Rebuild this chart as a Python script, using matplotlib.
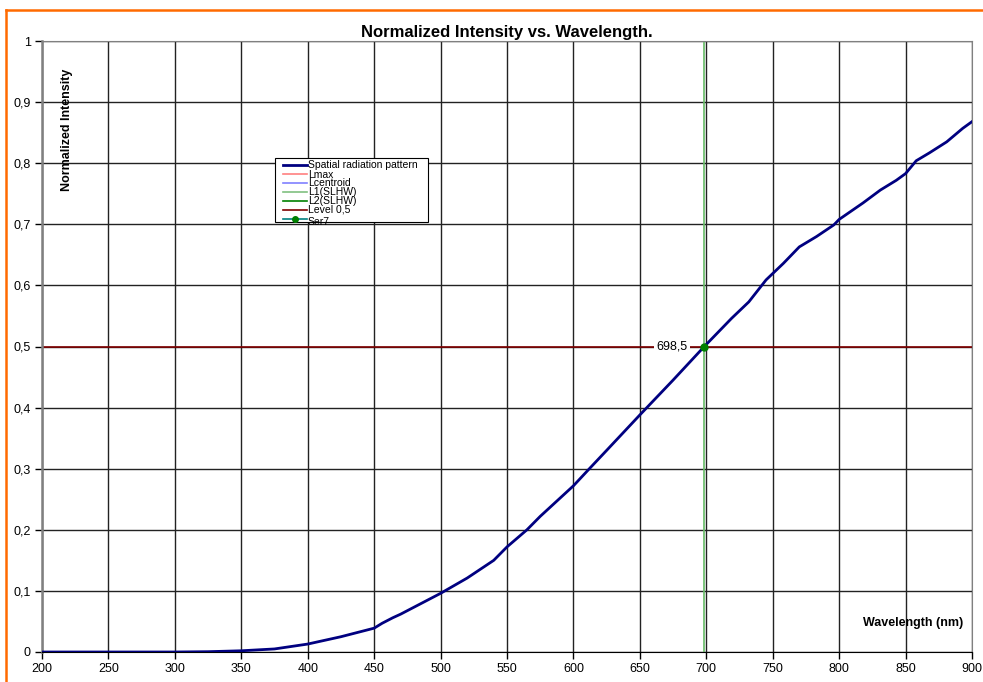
import numpy as np
import matplotlib.pyplot as plt
from matplotlib.lines import Line2D
from matplotlib.patches import Rectangle
from matplotlib.ticker import FuncFormatter

plt.rcParams['font.family'] = ['Liberation Sans', 'DejaVu Sans']

# spectrum read as (wavelength, normalized intensity)
wavelength = [200, 250, 300, 325, 350, 375, 400, 425, 450, 456, 464, 470, 500, 520, 540,
              550, 565, 575, 600, 612, 625, 650, 675, 698.5, 719, 732, 745, 758, 770,
              783, 796, 800, 818, 831, 843, 850, 858, 868, 881, 893, 900]
intensity = [0, 0, 0, 0.0005, 0.002, 0.005, 0.013, 0.025, 0.039, 0.047, 0.056, 0.062, 0.096,
             0.121, 0.15, 0.172, 0.2, 0.222, 0.272, 0.3, 0.33, 0.388, 0.445, 0.5, 0.546,
             0.573, 0.609, 0.636, 0.663, 0.68, 0.699, 0.708, 0.735, 0.756, 0.772, 0.783,
             0.804, 0.817, 0.835, 0.857, 0.868]

level = 0.5
l1_slhw = 698.5
x_ticks = list(range(200, 901, 50))
y_ticks = [0, 0.1, 0.2, 0.3, 0.4, 0.5, 0.6, 0.7, 0.8, 0.9, 1]

series_names = ['Spatial radiation pattern', 'Lmax', 'Lcentroid', 'L1(SLHW)', 'L2(SLHW)',
                'Level 0,5', 'Ser7']
series_colors = ['#000080', '#ff8080', '#8080ff', '#80c080', '#008000', '#800000', '#008080']


def comma(v):
    return ('%g' % v).replace('.', ',')


fig = plt.figure(figsize=(9.83, 6.82), dpi=100)
ax = fig.add_axes([42 / 983, 30 / 682, 930 / 983, 611 / 682])


def px(x, y):
    # pixel position of the figure -> axes fraction
    return (x - 42) / 930, (652 - y) / 611


ax.set_xlim(200, 900)
ax.set_ylim(0, 1)
ax.set_xticks(x_ticks)
ax.set_yticks(y_ticks)
ax.yaxis.set_major_formatter(FuncFormatter(lambda v, p: comma(v)))
ax.tick_params(direction='out', length=5, width=1, labelsize=9, colors='black', pad=3)
ax.grid(True, color='#222222', linewidth=1)
ax.set_axisbelow(True)

for side in ['top', 'right']:
    ax.spines[side].set_color('#808080')
ax.spines['left'].set_color('#808080')
ax.spines['left'].set_linewidth(1.8)
ax.spines['bottom'].set_color('black')

ax.axhline(level, color='#800000', linewidth=1.2, zorder=2)
ax.axvline(l1_slhw, color='#66bb66', linewidth=1.2, zorder=2)
ax.plot(wavelength, intensity, color='#000080', linewidth=2, zorder=3)
ax.plot([l1_slhw], [level], 'o', color='#008000', markersize=5, zorder=4)
ax.text(l1_slhw - 12.5, level, comma(l1_slhw), ha='right', va='center', fontsize=9,
        bbox=dict(facecolor='white', edgecolor='none', pad=1.5), zorder=4)

ax.set_title('Normalized Intensity vs. Wavelength.', fontsize=12, fontweight='bold', pad=3)
ax.text(219, 0.854, 'Normalized Intensity', rotation=90, ha='center', va='center',
        fontsize=9, fontweight='bold')
ax.text(856, 0.0475, 'Wavelength (nm)', ha='center', va='center', fontsize=9,
        fontweight='bold')

# legend box, the last entry is cut by the frame
x0, y0 = px(275, 222)
x1, y1 = px(428, 158)
frame = Rectangle((x0, y0), x1 - x0, y1 - y0, transform=ax.transAxes, facecolor='white',
                  edgecolor='black', linewidth=0.8, zorder=5)
ax.add_patch(frame)
clip = Rectangle((x0, y0), x1 - x0, y1 - y0, transform=ax.transAxes, facecolor='none',
                 edgecolor='none')
ax.add_patch(clip)
row_y = [165, 174, 182.7, 191.5, 200.5, 209.5, 221.5]
for i, (name, col) in enumerate(zip(series_names, series_colors)):
    ha, ya = px(283, row_y[i])
    hb, _ = px(307, row_y[i])
    if name == 'Ser7':
        ya = px(0, 219)[1]
    ln = Line2D([ha, hb], [ya, ya], transform=ax.transAxes, color=col,
                linewidth=2 if i == 0 else 1.2, zorder=6)
    ln.set_clip_path(clip)
    ax.add_line(ln)
    if name == 'Ser7':
        mk = Line2D([(ha + hb) / 2], [ya], transform=ax.transAxes, marker='o', color='#008000',
                    markersize=4, linestyle='none', zorder=7)
        mk.set_clip_path(clip)
        ax.add_line(mk)
    tx, ty = px(308, row_y[i] + 0.5)
    t = ax.text(tx, ty, name, transform=ax.transAxes, ha='left', va='center', fontsize=7.5,
                zorder=7)
    t.set_clip_path(clip)

# outer chart frame
fig.add_artist(Line2D([6 / 983, 1], [1 - 10 / 682, 1 - 10 / 682], color='#ff6a00', linewidth=1.8))
fig.add_artist(Line2D([6 / 983, 6 / 983], [0, 1 - 10 / 682], color='#ff6a00', linewidth=1.8))

fig.savefig('out.png', dpi=100)
